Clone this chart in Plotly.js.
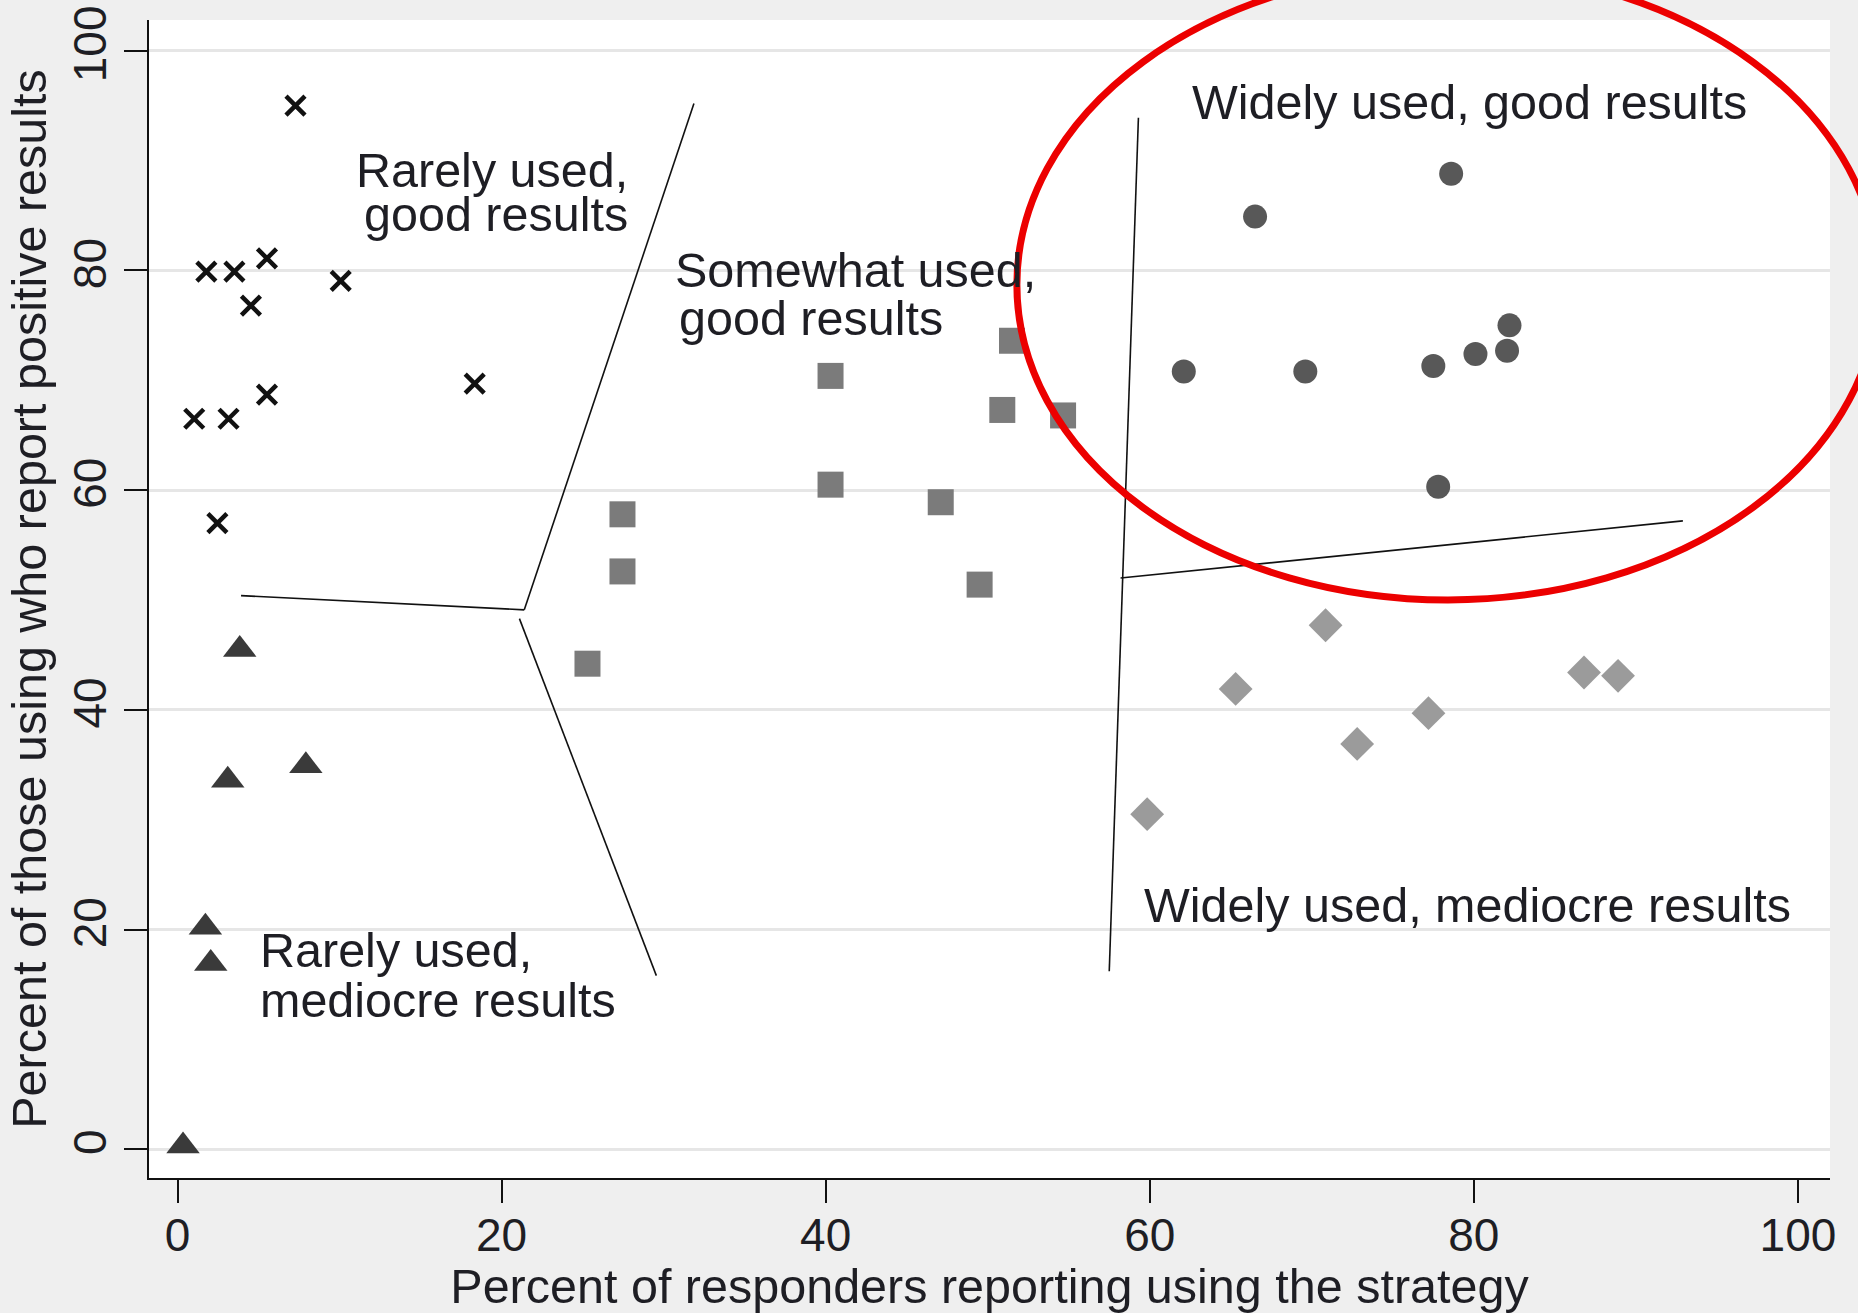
<!DOCTYPE html>
<html>
<head>
<meta charset="utf-8">
<script src="https://cdn.plot.ly/plotly-3.0.1.min.js"></script>
<style>html,body{margin:0;padding:0;background:#efefef;}</style>
</head>
<body>
<div id="chart" style="width:1858px;height:1313px;"></div>
<script>
// ---- Data ----
// Rarely used, good results (x markers)
const rgX = [7.28, 1.78, 3.51, 5.52, 10.07, 4.53, 18.34, 1.03, 3.15, 5.52, 2.46];
const rgY = [95.0, 79.9, 79.9, 81.1, 79.05, 76.8, 69.7, 66.5, 66.5, 68.7, 57.0];
// Rarely used, mediocre results (triangles)
const rmX = [3.84, 3.1, 7.92, 1.72, 2.05, 0.34];
const rmY = [45.5, 33.6, 34.9, 20.2, 16.9, 0.3];
// Somewhat used, good results (squares)
const sgX = [25.3, 27.46, 27.46, 40.3, 40.3, 47.1, 49.5, 50.9, 51.5, 54.65];
const sgY = [44.2, 52.6, 57.8, 70.4, 60.5, 58.9, 51.4, 67.3, 73.6, 66.8];
// Widely used, good results (circles)
const wgX = [62.1, 66.5, 69.6, 78.6, 77.5, 80.1, 82.2, 82.05, 77.8];
const wgY = [70.8, 84.9, 70.8, 88.8, 71.3, 72.4, 75.0, 72.7, 60.3];
// Widely used, mediocre results (diamonds)
const wmX = [59.84, 65.3, 70.85, 72.8, 77.2, 86.8, 88.9];
const wmY = [30.5, 41.9, 47.7, 36.9, 39.7, 43.4, 43.1];

// Hand-drawn dividing lines (segment endpoints, data units)
const segX0 = [3.92, 21.4, 21.1, 59.3, 58.2];
const segY0 = [50.4, 49.1, 48.3, 93.9, 52.0];
const segX1 = [21.4, 31.87, 29.55, 57.5, 92.9];
const segY1 = [49.1, 95.2, 15.8, 16.2, 57.2];

// Region labels
const labelText = ["Rarely used,", "good results", "Somewhat used,", "good results",
  "Widely used, good results", "Rarely used,", "mediocre results", "Widely used, mediocre results"];
const labelX = [27.9, 27.9, 30.6, 30.8, 62.5, 4.97, 4.97, 59.5];
const labelY = [89.1, 85.15, 80.0, 75.65, 95.3, 18.1, 13.55, 22.2];
const labelAnchor = ["right", "right", "left", "left", "left", "left", "left", "left"];

// Highlight ellipse (data units: centre and radii)
const ellipseCentre = [78.4, 78.7];
const ellipseRadii = [26.6, 28.7];

// Axis ticks
const tickVals = [0, 20, 40, 60, 80, 100];
const tickText = ["0", "20", "40", "60", "80", "100"];

// ---- Chart ----
const FONT = "Liberation Sans, Arial, Helvetica, sans-serif";
const TXT = "#1e1e24";
const xRange = [-1.76, 101.98];
const yRange = [-2.62, 102.8];

const traces = [];
function pts(x, y, symbol, size, color, lw) {
  traces.push({
    type: "scatter", mode: "markers", x: x, y: y, hoverinfo: "skip", showlegend: false,
    marker: {symbol: symbol, size: size, color: color,
             line: {width: lw || 0, color: color}}
  });
}
pts(sgX, sgY, "square", 26, "#7b7b7b");
pts(wmX, wmY, "diamond", 26, "#9b9b9b");
pts(wgX, wgY, "circle", 24, "#585858");
pts(rmX, rmY, "triangle-up", 29, "#3a3a3a");
pts(rgX, rgY, "x-thin", 19, "#111111", 4.5);

for (let i = 0; i < segX0.length; i++) {
  traces.push({
    type: "scatter", mode: "lines", x: [segX0[i], segX1[i]], y: [segY0[i], segY1[i]],
    line: {color: "#111111", width: 1.6}, hoverinfo: "skip", showlegend: false
  });
}

const annotations = labelText.map((t, i) => ({
  text: t, x: labelX[i], y: labelY[i], xref: "x", yref: "y",
  xanchor: labelAnchor[i], yanchor: "middle", showarrow: false,
  font: {family: FONT, size: 48.5, color: TXT}
}));

// ellipse in paper coords (so it is not clipped to the plot area)
const px = v => (v - xRange[0]) / (xRange[1] - xRange[0]);
const py = v => (v - yRange[0]) / (yRange[1] - yRange[0]);
const shapes = [{
  type: "circle", xref: "paper", yref: "paper", layer: "above",
  x0: px(ellipseCentre[0] - ellipseRadii[0]), x1: px(ellipseCentre[0] + ellipseRadii[0]),
  y0: py(ellipseCentre[1] - ellipseRadii[1]), y1: py(ellipseCentre[1] + ellipseRadii[1]),
  line: {color: "rgb(236,0,0)", width: 7}
}];

const layout = {
  width: 1858, height: 1313,
  paper_bgcolor: "#efefef", plot_bgcolor: "#ffffff",
  margin: {l: 149, r: 28, t: 20, b: 135, pad: 0},
  showlegend: false,
  font: {family: FONT, color: TXT},
  xaxis: {
    range: xRange, tickvals: tickVals, ticktext: tickText,
    ticks: "outside", ticklen: 23, tickwidth: 2, tickcolor: "#111",
    ticklabelstandoff: -7,
    showline: true, linecolor: "#111", linewidth: 2,
    showgrid: false, zeroline: false,
    tickfont: {family: FONT, size: 46, color: TXT},
    title: {text: "Percent of responders reporting using the strategy",
            font: {family: FONT, size: 48.5, color: TXT}, standoff: 4}
  },
  yaxis: {
    range: yRange, tickvals: tickVals, ticktext: tickText, tickangle: -90,
    ticks: "outside", ticklen: 23, tickwidth: 2, tickcolor: "#111",
    showline: true, linecolor: "#111", linewidth: 2,
    showgrid: true, gridcolor: "#e6e6e6", gridwidth: 3, zeroline: false,
    tickfont: {family: FONT, size: 46, color: TXT},
    title: {text: "Percent of those using who report positive results",
            font: {family: FONT, size: 48.5, color: TXT}, standoff: 2}
  },
  annotations: annotations,
  shapes: shapes
};

Plotly.newPlot("chart", traces, layout, {displayModeBar: false, staticPlot: true});
</script>
</body>
</html>
